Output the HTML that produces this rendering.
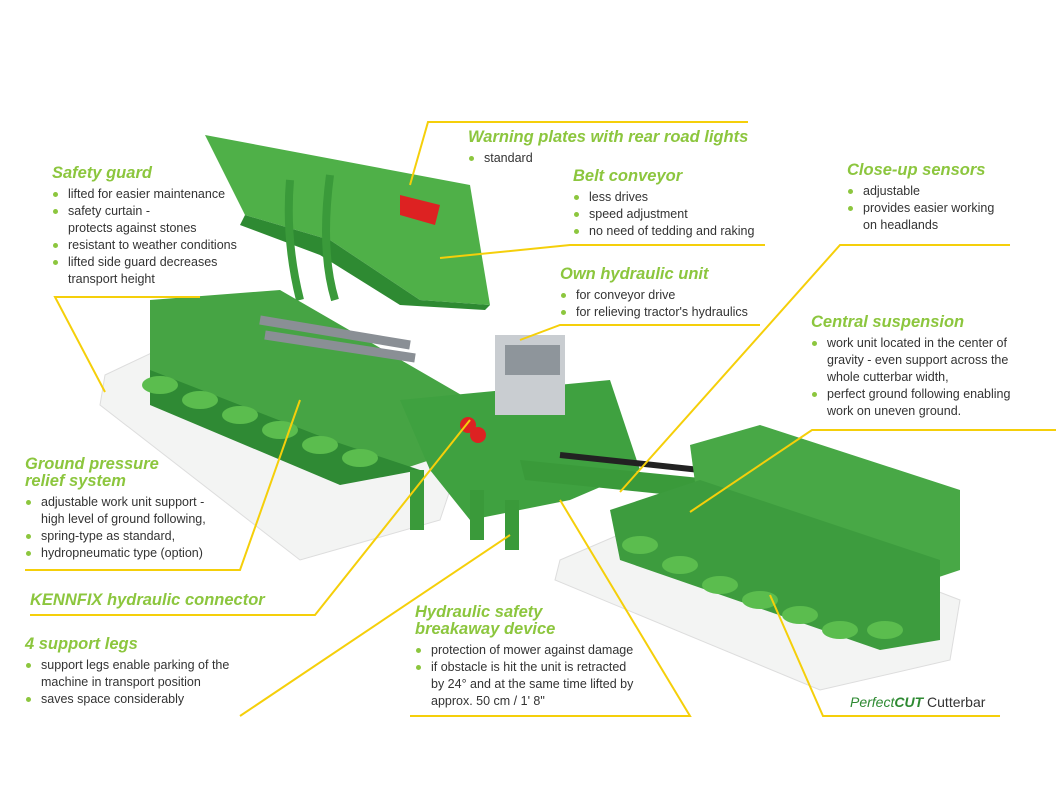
<!DOCTYPE html>
<html><head><meta charset="utf-8"><style>
body{margin:0;background:#fff;}
#c{position:relative;width:1056px;height:792px;overflow:hidden;font-family:"Liberation Sans",sans-serif;}
svg{position:absolute;left:0;top:0}
.h{position:absolute;color:#8cc63e;font-style:italic;font-weight:bold;font-size:16.5px;line-height:17px;white-space:nowrap}
.b{position:absolute;color:#333;font-size:12.5px;line-height:17px;white-space:nowrap}
.b div{padding-left:16px;position:relative}
.b div.d:before{content:"";position:absolute;left:1px;top:6px;width:5px;height:5px;border-radius:50%;background:#8cc63e}
</style></head><body><div id="c">
<svg width="1056" height="792">
<polygon points="105,375 200,330 470,430 440,520 300,560 100,405" fill="#f3f4f3" stroke="#ddd"/>
<polygon points="560,560 700,500 960,600 950,660 820,690 555,580" fill="#f3f4f3" stroke="#ddd"/>
<polygon points="205,135 470,185 490,305 420,300 330,240 245,215" fill="#4fb048"/>
<polygon points="245,215 330,240 420,300 490,305 485,310 400,305 320,255 240,225" fill="#2e8a32"/>
<path d="M290,180 Q285,240 300,300 M330,175 Q320,250 335,300" stroke="#3a9a3a" stroke-width="8" fill="none"/>
<polygon points="400,195 440,205 435,225 400,215" fill="#d22" />
<polygon points="150,300 280,290 470,400 460,450 400,470 330,480 150,400" fill="#46a444"/>
<polygon points="150,370 330,440 420,470 340,485 150,405" fill="#2f8a34"/>
<g fill="#5bbd4e"><ellipse cx="160" cy="385" rx="18" ry="9"/><ellipse cx="200" cy="400" rx="18" ry="9"/><ellipse cx="240" cy="415" rx="18" ry="9"/><ellipse cx="280" cy="430" rx="18" ry="9"/><ellipse cx="320" cy="445" rx="18" ry="9"/><ellipse cx="360" cy="458" rx="18" ry="9"/></g>
<g stroke="#8a8f95" stroke-width="9"><line x1="260" y1="320" x2="410" y2="345"/><line x1="265" y1="335" x2="415" y2="358"/></g>
<polygon points="400,400 610,380 640,470 570,500 470,520 430,470" fill="#3fa140"/>
<rect x="410" y="470" width="14" height="60" fill="#3a9a3a"/><rect x="470" y="490" width="14" height="50" fill="#3a9a3a"/><rect x="505" y="500" width="14" height="50" fill="#3a9a3a"/>
<rect x="495" y="335" width="70" height="80" fill="#c9cdd1"/><rect x="505" y="345" width="55" height="30" fill="#8e959b"/>
<circle cx="468" cy="425" r="8" fill="#d22"/><circle cx="478" cy="435" r="8" fill="#d22"/>
<polygon points="520,460 720,480 720,500 525,480" fill="#3a9a3a"/>
<line x1="560" y1="455" x2="700" y2="470" stroke="#222" stroke-width="6"/>
<polygon points="690,445 760,425 960,490 960,570 900,590 700,520" fill="#48a846"/>
<polygon points="610,510 700,480 940,560 940,640 880,650 620,560" fill="#3d9c3e"/>
<g fill="#5bbd4e"><ellipse cx="640" cy="545" rx="18" ry="9"/><ellipse cx="680" cy="565" rx="18" ry="9"/><ellipse cx="720" cy="585" rx="18" ry="9"/><ellipse cx="760" cy="600" rx="18" ry="9"/><ellipse cx="800" cy="615" rx="18" ry="9"/><ellipse cx="840" cy="630" rx="18" ry="9"/><ellipse cx="885" cy="630" rx="18" ry="9"/></g>
<g stroke="#f5cf0a" stroke-width="2" fill="none">
<polyline points="748,122 428,122 410,185"/>
<polyline points="765,245 570,245 440,258"/>
<polyline points="200,297 55,297 105,392"/>
<polyline points="1010,245 840,245 620,492"/>
<polyline points="760,325 560,325 520,340"/>
<polyline points="1056,430 812,430 690,512"/>
<polyline points="25,570 240,570 300,400"/>
<polyline points="30,615 315,615 470,420"/>
<polyline points="240,716 510,535"/>
<polyline points="410,716 690,716 560,500"/>
<polyline points="1000,716 823,716 770,595"/>
</g>
</svg>
<div class="h" style="left:468px;top:129px">Warning plates with rear road lights</div>
<div class="b" style="left:468px;top:150px"><div class="d">standard</div></div>
<div class="h" style="left:52px;top:165px">Safety guard</div>
<div class="b" style="left:52px;top:186px"><div class="d">lifted for easier maintenance</div><div class="d">safety curtain -</div><div>protects against stones</div><div class="d">resistant to weather conditions</div><div class="d">lifted side guard decreases</div><div>transport height</div></div>
<div class="h" style="left:573px;top:168px">Belt conveyor</div>
<div class="b" style="left:573px;top:189px"><div class="d">less drives</div><div class="d">speed adjustment</div><div class="d">no need of tedding and raking</div></div>
<div class="h" style="left:847px;top:162px">Close-up sensors</div>
<div class="b" style="left:847px;top:183px"><div class="d">adjustable</div><div class="d">provides easier working</div><div>on headlands</div></div>
<div class="h" style="left:560px;top:266px">Own hydraulic unit</div>
<div class="b" style="left:560px;top:287px"><div class="d">for conveyor drive</div><div class="d">for relieving tractor's hydraulics</div></div>
<div class="h" style="left:811px;top:314px">Central suspension</div>
<div class="b" style="left:811px;top:335px"><div class="d">work unit located in the center of</div><div>gravity - even support across the</div><div>whole cutterbar width,</div><div class="d">perfect ground following enabling</div><div>work on uneven ground.</div></div>
<div class="h" style="left:25px;top:456px">Ground pressure<br>relief system</div>
<div class="b" style="left:25px;top:494px"><div class="d">adjustable work unit support -</div><div>high level of ground following,</div><div class="d">spring-type as standard,</div><div class="d">hydropneumatic type (option)</div></div>
<div class="h" style="left:30px;top:592px">KENNFIX hydraulic connector</div>
<div class="h" style="left:25px;top:636px">4 support legs</div>
<div class="b" style="left:25px;top:657px"><div class="d">support legs enable parking of the</div><div>machine in transport position</div><div class="d">saves space considerably</div></div>
<div class="h" style="left:415px;top:604px">Hydraulic safety<br>breakaway device</div>
<div class="b" style="left:415px;top:642px"><div class="d">protection of mower against damage</div><div class="d">if obstacle is hit the unit is retracted</div><div>by 24° and at the same time lifted by</div><div>approx. 50 cm / 1' 8"</div></div>
<div class="b" style="left:850px;top:694px;font-size:14px"><span style="color:#2e8a32;font-style:italic">Perfect<b>CUT</b></span> Cutterbar</div>
</div></body></html>
